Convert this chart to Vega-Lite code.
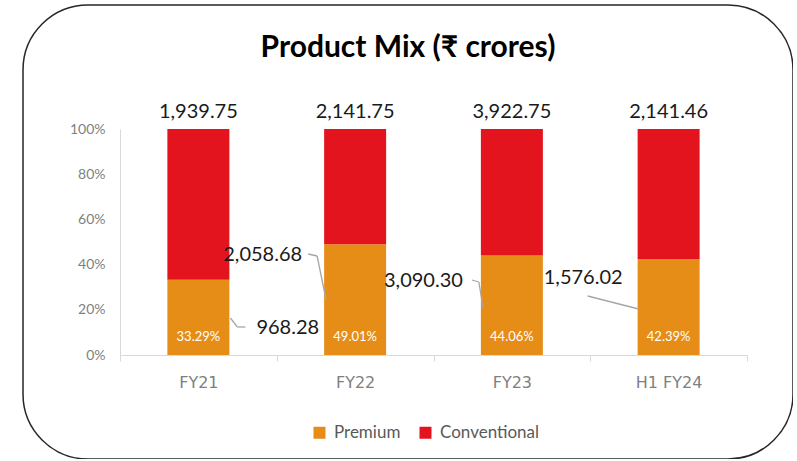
{
  "$schema": "https://vega.github.io/schema/vega-lite/v6.json",
  "autosize": {"type": "none"},
  "padding": {"left": 23, "top": 5, "right": 0, "bottom": 0},
  "width": 770,
  "height": 454,
  "background": "white",
  "config": {
    "font": "Lato",
    "view": {"stroke": "#262626", "strokeWidth": 1.5, "cornerRadius": 65}
  },
  "title": {
    "text": "Product Mix (₹ crores)",
    "font": "Lato",
    "fontSize": 30,
    "fontWeight": "bold",
    "color": "#000000",
    "anchor": "middle",
    "baseline": "alphabetic",
    "offset": 0,
    "dy": 82
  },
  "data": {
    "values": [
      {"period": "FY21", "segment": "Premium", "value": 968.28, "share": 0.3329},
      {"period": "FY21", "segment": "Conventional", "value": 1939.75, "share": 0.6671},
      {"period": "FY22", "segment": "Premium", "value": 2058.68, "share": 0.4901},
      {"period": "FY22", "segment": "Conventional", "value": 2141.75, "share": 0.5099},
      {"period": "FY23", "segment": "Premium", "value": 3090.30, "share": 0.4406},
      {"period": "FY23", "segment": "Conventional", "value": 3922.75, "share": 0.5594},
      {"period": "H1 FY24", "segment": "Premium", "value": 1576.02, "share": 0.4239},
      {"period": "H1 FY24", "segment": "Conventional", "value": 2141.46, "share": 0.5761}
    ]
  },
  "encoding": {
    "x": {
      "field": "period",
      "type": "nominal",
      "sort": null,
      "scale": {"range": [97, 724], "paddingInner": 0, "paddingOuter": 0},
      "axis": {
        "title": null,
        "orient": "bottom",
        "offset": -104,
        "domainColor": "#d9d9d9",
        "tickColor": "#d9d9d9",
        "tickSize": 6,
        "tickBand": "extent",
        "labelFont": "DejaVu Sans",
        "labelFontSize": 16,
        "labelColor": "#7f7f7f",
        "labelPadding": 13,
        "labelAngle": 0,
        "grid": false
      }
    }
  },
  "layer": [
    {
      "mark": {"type": "bar", "size": 62},
      "encoding": {
        "y": {
          "field": "value",
          "type": "quantitative",
          "stack": "normalize",
          "scale": {"domain": [0, 1], "range": [350, 124]},
          "axis": {
            "title": null,
            "orient": "left",
            "offset": -97,
            "values": [0, 0.2, 0.4, 0.6, 0.8, 1],
            "format": ".0%",
            "domainColor": "#d9d9d9",
            "ticks": false,
            "tickSize": 0,
            "grid": false,
            "labelFontSize": 14,
            "labelColor": "#7f7f7f",
            "labelPadding": 15
          }
        },
        "color": {
          "field": "segment",
          "type": "nominal",
          "scale": {"domain": ["Premium", "Conventional"], "range": ["#E68D18", "#E3141E"]},
          "legend": {
            "orient": "none",
            "legendX": 288,
            "legendY": 419,
            "direction": "horizontal",
            "title": null,
            "symbolType": "square",
            "symbolSize": 144,
            "symbolStrokeWidth": 0,
            "labelFontSize": 17,
            "labelColor": "#595959",
            "columnPadding": 16,
            "labelOffset": 6
          }
        },
        "order": {"field": "segment", "sort": "descending"}
      }
    },
    {
      "transform": [{"filter": "datum.segment == 'Conventional'"}],
      "mark": {"type": "text", "fontSize": 20, "color": "#1a1a1a", "baseline": "alphabetic", "dy": -11},
      "encoding": {
        "y": {"datum": 1, "type": "quantitative"},
        "text": {"field": "value", "type": "quantitative", "format": ",.2f"}
      }
    },
    {
      "transform": [{"filter": "datum.segment == 'Premium'"}],
      "mark": {"type": "text", "fontSize": 13, "color": "#ffffff", "baseline": "middle", "dy": -18},
      "encoding": {
        "y": {"datum": 0, "type": "quantitative"},
        "text": {"field": "share", "type": "quantitative", "format": ".2%"}
      }
    },
    {
      "transform": [{"filter": "datum.segment == 'Premium'"}],
      "mark": {
        "type": "text",
        "fontSize": 20,
        "color": "#1a1a1a",
        "baseline": "middle",
        "align": {"expr": "datum.period == 'FY21' ? 'left' : 'right'"},
        "dx": {"expr": "datum.period == 'FY21' ? 58 : datum.period == 'FY22' ? -53 : datum.period == 'FY23' ? -49 : -46"},
        "dy": {"expr": "datum.period == 'FY21' ? -27 : datum.period == 'FY22' ? -100 : datum.period == 'FY23' ? -74 : -77"}
      },
      "encoding": {
        "y": {"datum": 0, "type": "quantitative"},
        "text": {"field": "value", "type": "quantitative", "format": ",.2f"}
      }
    },
    {
      "transform": [{"filter": "datum.segment == 'Premium'"}],
      "mark": {
        "type": "rule",
        "color": "#a6a6a6",
        "strokeWidth": 1.3,
        "xOffset": {"expr": "datum.period == 'FY21' ? 32 : datum.period == 'FY22' ? -47 : datum.period == 'FY23' ? -40 : -81"},
        "yOffset": {"expr": "datum.period == 'FY21' ? -37 : datum.period == 'FY22' ? -101 : datum.period == 'FY23' ? -75 : -59"},
        "x2Offset": {"expr": "datum.period == 'FY21' ? 39 : datum.period == 'FY22' ? -38 : datum.period == 'FY23' ? -33 : -30"},
        "y2Offset": {"expr": "datum.period == 'FY21' ? -28 : datum.period == 'FY22' ? -99 : datum.period == 'FY23' ? -73 : -46"}
      },
      "encoding": {
        "x2": {"field": "period"},
        "y": {"datum": 0, "type": "quantitative"},
        "y2": {"datum": 0}
      }
    },
    {
      "transform": [{"filter": "datum.segment == 'Premium' && datum.period != 'H1 FY24'"}],
      "mark": {
        "type": "rule",
        "color": "#a6a6a6",
        "strokeWidth": 1.3,
        "xOffset": {"expr": "datum.period == 'FY21' ? 39 : datum.period == 'FY22' ? -38 : -33"},
        "yOffset": {"expr": "datum.period == 'FY21' ? -28 : datum.period == 'FY22' ? -99 : -73"},
        "x2Offset": {"expr": "datum.period == 'FY21' ? 47 : datum.period == 'FY22' ? -29 : -29"},
        "y2Offset": {"expr": "datum.period == 'FY21' ? -28 : datum.period == 'FY22' ? -55 : -48"}
      },
      "encoding": {
        "x2": {"field": "period"},
        "y": {"datum": 0, "type": "quantitative"},
        "y2": {"datum": 0}
      }
    }
  ]
}
